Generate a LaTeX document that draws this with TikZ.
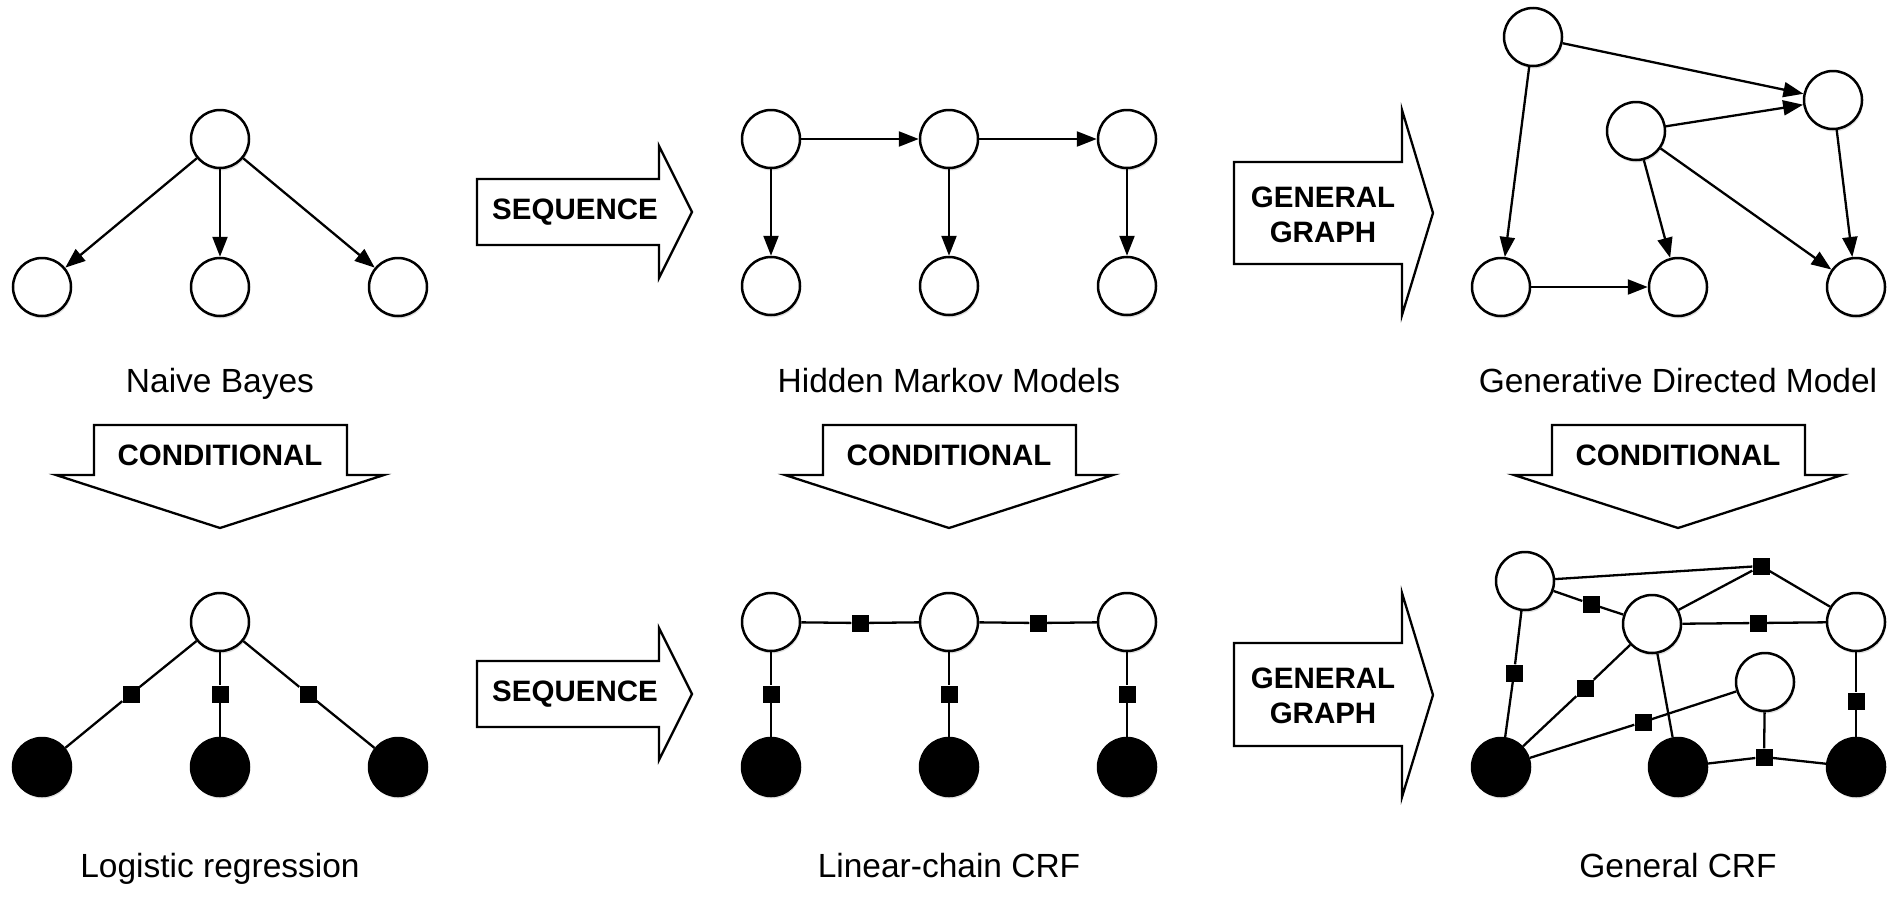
\documentclass[tikz,border=0pt]{standalone}
\usepackage{fontspec}
\setmainfont{Liberation Sans}
\usetikzlibrary{arrows.meta,shadows}

\tikzset{
  hid/.style={circle,draw,line width=2.5pt,fill=white,minimum size=58pt,inner sep=0pt,
    drop shadow={shadow xshift=1pt,shadow yshift=-2.5pt,opacity=0.25}},
  obs/.style={hid,fill=black},
  fac/.style={rectangle,fill=black,minimum size=17pt,inner sep=0pt},
  arr/.style={line width=2.3pt,-{Triangle[length=20pt,width=15pt]}},
  lnk/.style={line width=2.3pt},
  blk/.style={line width=2.3pt,fill=white,line join=miter},
  title/.style={font=\fontsize{33.5}{40}\selectfont,anchor=base},
  lab/.style={font=\fontsize{29.5}{35}\selectfont\bfseries,align=center}
}

\begin{document}
\begin{tikzpicture}[x=1pt,y=-1pt]
\useasboundingbox (0,0) rectangle (1900,897);

% naive bayes
\node[hid] (nb0) at (220,139) {};
\node[hid] (nb1) at (42,287)  {};
\node[hid] (nb2) at (220,287) {};
\node[hid] (nb3) at (398,287) {};
\draw[arr] (nb0) -- (nb1);
\draw[arr] (nb0) -- (nb2);
\draw[arr] (nb0) -- (nb3);
\node[title] (nbcap) at (220,392) {Naive Bayes};

% hidden markov models
\node[hid] (hm1) at (771,139)  {};
\node[hid] (hm2) at (949,139)  {};
\node[hid] (hm3) at (1127,139) {};
\node[hid] (ho1) at (771,286)  {};
\node[hid] (ho2) at (949,286)  {};
\node[hid] (ho3) at (1127,286) {};
\draw[arr] (hm1) -- (hm2);
\draw[arr] (hm2) -- (hm3);
\draw[arr] (hm1) -- (ho1);
\draw[arr] (hm2) -- (ho2);
\draw[arr] (hm3) -- (ho3);
\node[title] (hmcap) at (949,392) {Hidden Markov Models};

% generative directed model
\node[hid] (ga) at (1533,37)  {};
\node[hid] (gb) at (1833,100) {};
\node[hid] (gc) at (1636,131) {};
\node[hid] (gd) at (1501,287) {};
\node[hid] (ge) at (1678,287) {};
\node[hid] (gf) at (1856,287) {};
\draw[arr] (ga) -- (gb);
\draw[arr] (gc) -- (gb);
\draw[arr] (ga) -- (gd);
\draw[arr] (gc) -- (ge);
\draw[arr] (gc) -- (gf);
\draw[arr] (gb) -- (gf);
\draw[arr] (gd) -- (ge);
\node[title] (gdcap) at (1678,392) {Generative Directed Model};

% logistic regression
\node[hid] (lr0) at (220,622) {};
\node[obs] (lr1) at (42,767)  {};
\node[obs] (lr2) at (220,767) {};
\node[obs] (lr3) at (398,767) {};
\node[fac] (lf1) at (131,694) {};
\node[fac] (lf2) at (220,694) {};
\node[fac] (lf3) at (308,694) {};
\draw[lnk] (lr0) -- (lf1) -- (lr1);
\draw[lnk] (lr0) -- (lf2) -- (lr2);
\draw[lnk] (lr0) -- (lf3) -- (lr3);
\node[title] (lrcap) at (220,877) {Logistic regression};

% linear-chain crf
\node[hid] (cy1) at (771,622)  {};
\node[hid] (cy2) at (949,622)  {};
\node[hid] (cy3) at (1127,622) {};
\node[obs] (cx1) at (771,767)  {};
\node[obs] (cx2) at (949,767)  {};
\node[obs] (cx3) at (1127,767) {};
\node[fac] (ct1) at (860,623)  {};
\node[fac] (ct2) at (1038,623) {};
\node[fac] (ce1) at (771,694)  {};
\node[fac] (ce2) at (949,694)  {};
\node[fac] (ce3) at (1127,694) {};
\draw[lnk] (cy1) -- (ct1) -- (cy2);
\draw[lnk] (cy2) -- (ct2) -- (cy3);
\draw[lnk] (cy1) -- (ce1) -- (cx1);
\draw[lnk] (cy2) -- (ce2) -- (cx2);
\draw[lnk] (cy3) -- (ce3) -- (cx3);
\node[title] (lccap) at (949,877) {Linear-chain CRF};

% general crf
\node[hid] (rp) at (1525,581) {};
\node[hid] (rq) at (1652,624) {};
\node[hid] (rr) at (1856,622) {};
\node[hid] (rs) at (1765,682) {};
\node[obs] (rx) at (1501,767) {};
\node[obs] (ry) at (1678,767) {};
\node[obs] (rz) at (1856,767) {};
\node[fac] (rf1) at (1761,566) {};
\node[fac] (rf2) at (1591,604) {};
\node[fac] (rf3) at (1758,623) {};
\node[fac] (rf4) at (1514,673) {};
\node[fac] (rf5) at (1585,688) {};
\node[fac] (rf6) at (1643,722) {};
\node[fac] (rf7) at (1764,757) {};
\node[fac] (rf8) at (1856,701) {};
\draw[lnk] (rp) -- (rf1) -- (rr);
\draw[lnk] (rq) -- (rf1);
\draw[lnk] (rp) -- (rf2) -- (rq);
\draw[lnk] (rq) -- (rf3) -- (rr);
\draw[lnk] (rp) -- (rf4) -- (rx);
\draw[lnk] (rq) -- (rf5) -- (rx);
\draw[lnk] (rs) -- (rf6) -- (rx);
\draw[lnk] (ry) -- (rf7) -- (rz);
\draw[lnk] (rs) -- (rf7);
\draw[lnk] (rr) -- (rf8) -- (rz);
\draw[lnk] (rq) -- (ry);
\node[title] (gccap) at (1678,877) {General CRF};

% sequence arrows
\draw[blk] (477,179) -- (659,179) -- (659,146) -- (692,212) -- (659,278) -- (659,245) -- (477,245) -- cycle;
\node[lab] (seq1) at (575,212) {SEQUENCE};
\draw[blk] (477,661) -- (659,661) -- (659,628) -- (692,694) -- (659,760) -- (659,727) -- (477,727) -- cycle;
\node[lab] (seq2) at (575,694) {SEQUENCE};

% general graph arrows
\draw[blk] (1234,162) -- (1402,162) -- (1402,110) -- (1433,213) -- (1402,315) -- (1402,264) -- (1234,264) -- cycle;
\node[lab] (gen1) at (1323,215) {GENERAL\\GRAPH};
\draw[blk] (1234,643) -- (1402,643) -- (1402,593) -- (1433,695) -- (1402,797) -- (1402,746) -- (1234,746) -- cycle;
\node[lab] (gen2) at (1323,696) {GENERAL\\GRAPH};

% conditional arrows
\draw[blk] (94,425) -- (347,425) -- (347,475) -- (384,475) -- (220,528) -- (56,475) -- (94,475) -- cycle;
\node[lab] (cond1) at (220,455) {CONDITIONAL};
\draw[blk] (823,425) -- (1076,425) -- (1076,475) -- (1113,475) -- (949,528) -- (785,475) -- (823,475) -- cycle;
\node[lab] (cond2) at (949,455) {CONDITIONAL};
\draw[blk] (1552,425) -- (1805,425) -- (1805,475) -- (1842,475) -- (1678,528) -- (1514,475) -- (1552,475) -- cycle;
\node[lab] (cond3) at (1678,455) {CONDITIONAL};
\end{tikzpicture}
\end{document}
